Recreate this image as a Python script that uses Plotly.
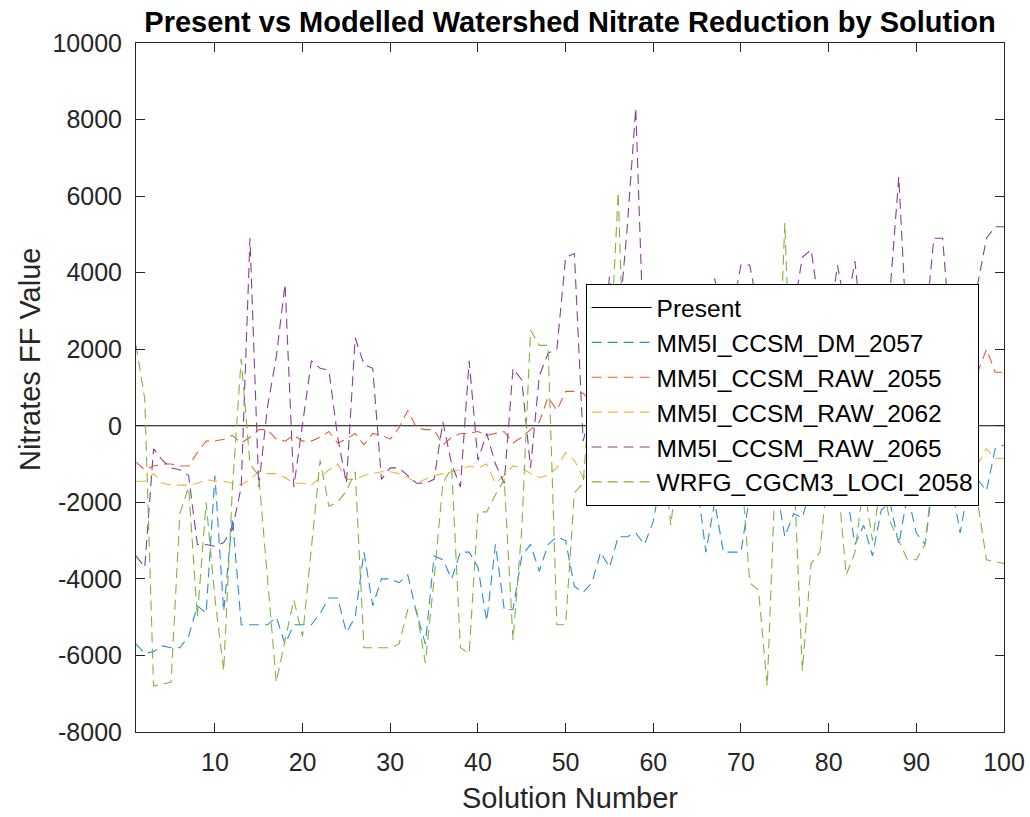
import plotly.graph_objects as go

solution = list(range(1, 101))

present = [0] * 100

dm_2057 = [
    -5700, -5950, -5900, -5750, -5800, -5800, -5500, -4700, -4900, -1300,
    -4850, -2400, -5200, -5200, -5200, -5200, -5000, -5700, -5200, -5200,
    -5200, -4900, -4500, -4500, -5400, -5000, -3300, -4700, -4000, -4000,
    -4100, -3900, -4900, -5700, -3400, -3500, -4000, -3300, -3300, -3700,
    -5100, -3100, -4800, -4800, -3400, -3100, -3800, -3100, -2900, -3000,
    -4200, -4350, -4100, -3300, -3700, -2900, -2900, -2800, -3100, -2500,
    -1200, -1000, -800, -1000, -1500, -3300, -2000, -3300, -3300, -3300,
    -1800, -1300, -1200, -1500, -2900, -2300, -2400, -1600, -1800, -1400,
    -1200, -1700, -3100, -2600, -3400, -2200, -2000, -3100, -1800, -2800,
    -3100, -1300, -1200, -1500, -2800, -1500, -1400, -1700, -600, -500,
]

raw_2055 = [
    -950, -1150, -1050, -1000, -1000, -1050, -1050, -700, -400, -400,
    -350, -250, -450, -300, -100, -100, -350, -400, -250, -400,
    -400, -300, -150, -450, -350, -200, -500, -200, -250, -350,
    -50, 400, -50, -100, -100, -500, -300, -200, -200, -150,
    -250, -200, -150, -450, -300, -100, 100, 750, 400, 900,
    900, 850, 600, 900, 1100, 800, 1200, 1000, 1300, 1100,
    900, 1200, 1400, 1000, 1300, 1500, 1200, 1100, 1400, 1600,
    1300, 1200, 1000, 1500, 1700, 1400, 1300, 1600, 1500, 1200,
    1400, 1700, 1500, 1300, 1600, 1800, 1400, 1500, 1700, 1300,
    1600, 1800, 1500, 1400, 1700, 1400, 1400, 2000, 1400, 1400,
]

raw_2062 = [
    -1450, -1450, -1250, -1500, -1550, -1550, -1550, -1500, -1400, -1450,
    -1450, -1500, -1550, -1400, -1200, -1250, -1250, -1350, -1500, -1500,
    -1550, -1350, -1150, -1000, -1400, -1400, -1300, -1250, -1200, -1200,
    -1250, -1350, -1500, -1400, -1300, -1250, -1200, -1150, -1050, -1100,
    -1000, -1500, -1300, -1050, -1100, -1250, -1350, -1300, -1100, -700,
    -900, -1350, -1200, -1100, -1300, -1000, -1150, -1250, -1050, -1200,
    -1100, -1300, -1000, -1150, -1250, -1100, -950, -1200, -1300, -1050,
    -1150, -1000, -1200, -1100, -900, -1150, -1250, -1000, -1100, -1300,
    -1050, -950, -1200, -1100, -1000, -1250, -1150, -1000, -1100, -1200,
    -950, -1050, -1150, -1000, -1100, -900, -1000, -600, -850, -850,
]

raw_2065 = [
    -3400, -3700, -600, -900, -1100, -1150, -1300, -3100, -3100, -3150,
    -3050, -2700, -1600, 4900, -1600, 500, 1800, 3700, -1600, 100,
    1700, 1500, 1450, -300, -1500, 2300, 1600, 1500, -1400, -1100,
    -1100, -1300, -1500, -1500, -1400, 100, -1000, -1600, 1700, -900,
    -200, -1000, -1500, 1500, 1200, -1100, 1300, 1900, 2000, 4400,
    4500, -400, 500, 1500, 3900, 2500, 5100, 8300, 1500, 2000,
    3000, 1000, 2500, 3300, 2000, 2800, 3850, 2500, 3000, 4200,
    4200, 3000, 2000, 3500, 2800, 3000, 4400, 4600, 3000, 2500,
    4200, 3000, 4300, 2000, 3000, 2600, 3500, 6500, 2000, 3000,
    2500, 4900, 4900, 2000, 3000, 2500, 3700, 4900, 5200, 5200,
]

loci_2058 = [
    2100, 700, -6800, -6750, -6700, -2300, -1600, -5000, -2000, -4500,
    -6400, -1600, 1750, -1000, -1300, -4000, -6700, -5600, -4550, -5500,
    -3100, -900, -2100, -2000, -1700, -1200, -5800, -5800, -5800, -5800,
    -5700, -4800, -4800, -6200, -4000, -1500, -1100, -5800, -5950, -2250,
    -2250, -1800, -1400, -5600, -2700, 2500, 2100, 2100, -5200, -5200,
    -1750, -1500, 1500, -2000, 1500, 6100, -1000, -1200, 500, 1000,
    -500, -2600, -500, 1000, -1000, 500, -1500, 1000, 0, -1000,
    -4100, -4300, -6800, -500, 5300, -1000, -6400, -3600, -3300, -1000,
    -1300, -3900, -3300, -1500, -3000, -1400, -2500, -3000, -3500, -3500,
    -3100, -1000, 0, 1000, -500, 1000, -2000, -3500, -3550, -3600,
]

series_names = [
    "MM5I_CCSM_DM_2057",
    "MM5I_CCSM_RAW_2055",
    "MM5I_CCSM_RAW_2062",
    "MM5I_CCSM_RAW_2065",
    "WRFG_CGCM3_LOCI_2058",
]
series_values = [dm_2057, raw_2055, raw_2062, raw_2065, loci_2058]
series_colors = ["#2A8ED2", "#DF6235", "#EFB33A", "#8A3E97", "#80B43B"]

x_ticks = [10, 20, 30, 40, 50, 60, 70, 80, 90, 100]
y_ticks = [-8000, -6000, -4000, -2000, 0, 2000, 4000, 6000, 8000, 10000]
y_tick_text = ["-8000", "-6000", "-4000", "-2000", "0", "2000", "4000", "6000", "8000", "10000"]

FONT = "Liberation Sans, Arial, Helvetica, sans-serif"
AXC = "#262626"

fig = go.Figure()
fig.add_trace(go.Scatter(x=solution, y=present, mode="lines", name="Present",
                         line=dict(color="black", width=1.1)))
for name, vals, col in zip(series_names, series_values, series_colors):
    fig.add_trace(go.Scatter(x=solution, y=vals, mode="lines", name=name,
                             line=dict(color=col, width=1.1, dash="10px,6px")))

axis_common = dict(
    showline=True, linecolor=AXC, linewidth=1, mirror="allticks",
    ticks="inside", ticklen=9, tickwidth=1, tickcolor=AXC,
    showgrid=False, zeroline=False, ticklabelstandoff=8, automargin=False,
    tickfont=dict(family=FONT, size=25, color=AXC),
)

fig.update_xaxes(range=[1, 100], tickvals=x_ticks,
                 title=dict(text="Solution Number", font=dict(family=FONT, size=29, color=AXC), standoff=12),
                 **axis_common)
fig.update_yaxes(range=[-8000, 10000], tickvals=y_ticks, ticktext=y_tick_text,
                 **axis_common)

fig.update_layout(
    width=1030, height=817,
    margin=dict(l=136, r=26, t=43, b=85),
    paper_bgcolor="white", plot_bgcolor="white",
    title=dict(text="<b>Present vs Modelled Watershed Nitrate Reduction by Solution</b>",
               font=dict(family=FONT, size=29, color="black"),
               x=0.5, xref="paper", xanchor="center",
               y=1 - 22 / 817, yref="container", yanchor="middle"),
    legend=dict(x=0.518, y=0.650, xanchor="left", yanchor="top",
                bgcolor="white", bordercolor="black", borderwidth=1,
                font=dict(family=FONT, size=24.5, color="black"),
                itemwidth=60, tracegroupgap=0),
    showlegend=True,
    annotations=[dict(text="Nitrates FF Value", textangle=-90,
                      xref="paper", yref="paper", x=-0.122, y=0.54,
                      xanchor="center", yanchor="middle", showarrow=False,
                      font=dict(family=FONT, size=29, color=AXC))],
)

fig.write_html("out.html")
